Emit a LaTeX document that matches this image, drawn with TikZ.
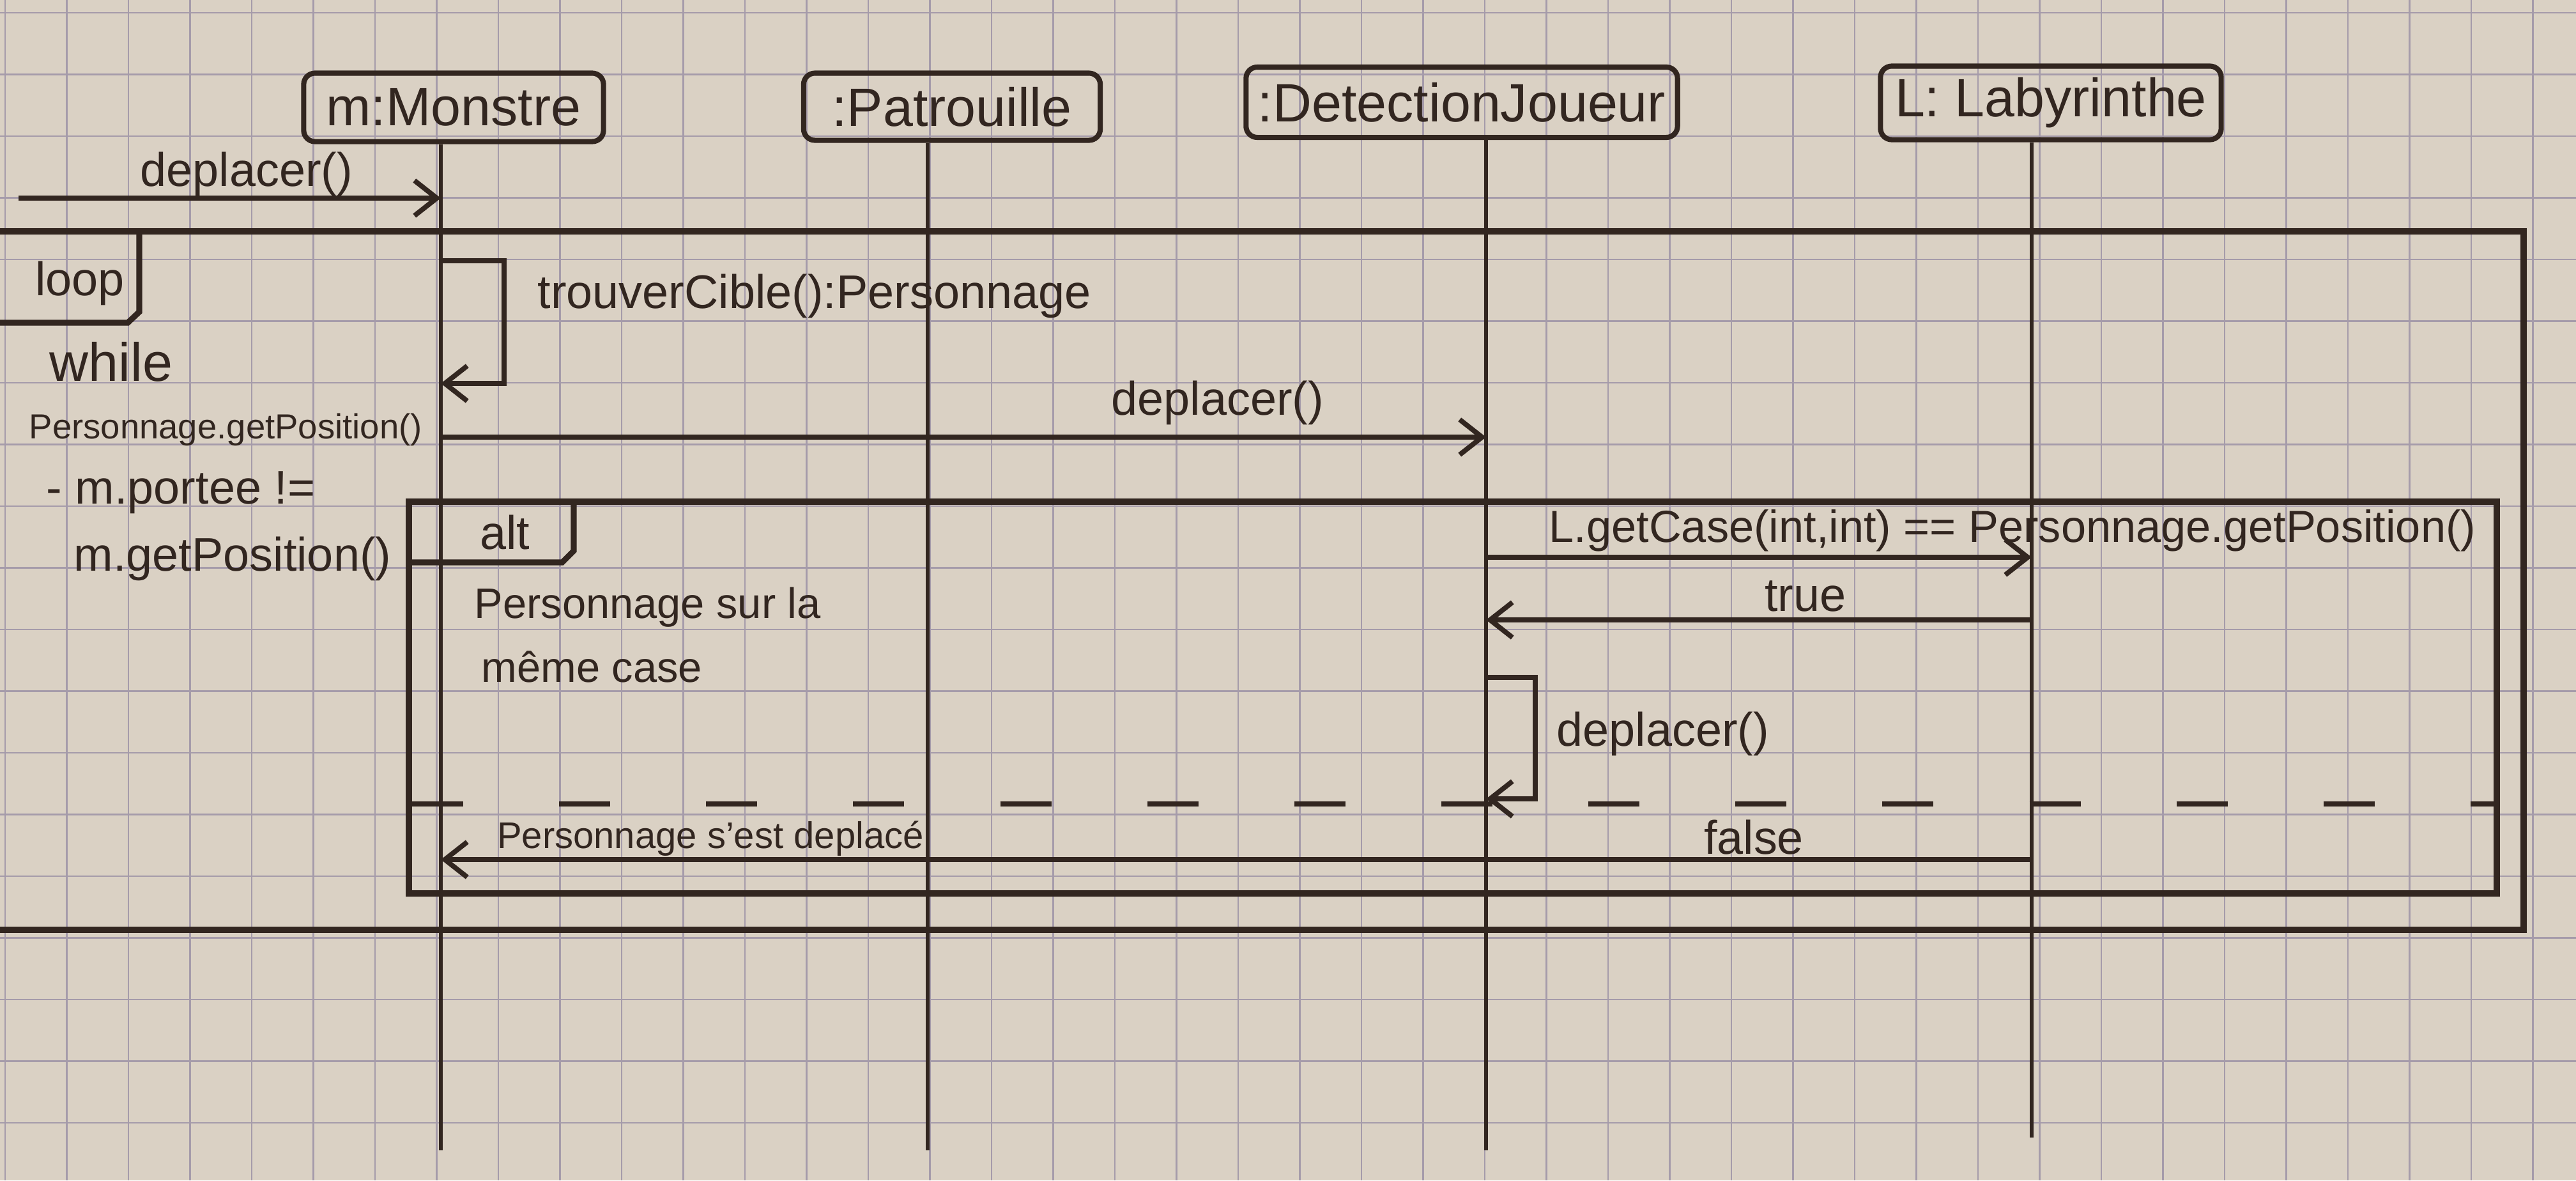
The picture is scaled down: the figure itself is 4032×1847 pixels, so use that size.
\documentclass[tikz,border=0pt]{standalone}
\usepackage{fontspec}
\setmainfont{Liberation Sans}
\usepackage{tikz}
\usetikzlibrary{arrows.meta,calc,positioning}
\definecolor{paper}{RGB}{218,209,196}
\definecolor{gridline}{RGB}{165,155,170}
\definecolor{ink}{RGB}{50,38,32}

\begin{document}
\begin{tikzpicture}[x=0.01cm,y=-0.01cm,
            objbox/.style={draw=ink, line width=2.3pt, rounded corners=5pt, text=ink, font=\fontsize{24}{28}\selectfont, inner sep=0pt},
            lifeline/.style={draw=ink, line width=1.6pt},
            msg/.style={draw=ink, line width=2.2pt, -{Straight Barb[length=3.5mm,width=5.5mm]}},
            fragment/.style={draw=ink, line width=2.6pt},
            msgtext/.style={text=ink, font=\fontsize{21}{25}\selectfont, inner sep=0pt},
            guard/.style={msgtext, anchor=west}]
            \useasboundingbox (0,0) rectangle (4032,1847);
            %Paper
            \fill[paper] (0,0) rectangle (4032,1847);
            \foreach \i in {0,...,41} \draw[gridline, line width=0.8pt] (8+96.5*\i,0) -- (8+96.5*\i,1847);
            \foreach \i in {0,...,19} \draw[gridline, line width=0.8pt] (0,20+96.5*\i) -- (4032,20+96.5*\i);
            %Objects
            \node[objbox, minimum width=4.69cm, minimum height=1.07cm] (mon) at (710,168) {m:Monstre};
            \node[objbox, minimum width=4.64cm, minimum height=1.05cm] (pat) at (1490,167) {:Patrouille};
            \node[objbox, minimum width=6.75cm, minimum height=1.10cm] (det) at (2288,160) {:DetectionJoueur};
            \node[objbox, minimum width=5.33cm, minimum height=1.15cm] (lab) at (3210,161) {L: Labyrinthe};
            %Lifelines
            \coordinate (monEnd) at (690,1800);
            \coordinate (patEnd) at (1452,1800);
            \coordinate (detEnd) at (2326,1800);
            \coordinate (labEnd) at (3180,1780);
            \draw[lifeline] (mon.south -| monEnd) -- (monEnd);
            \draw[lifeline] (pat.south -| patEnd) -- (patEnd);
            \draw[lifeline] (det.south -| detEnd) -- (detEnd);
            \draw[lifeline] (lab.south -| labEnd) -- (labEnd);
            %Message points
            \coordinate (gate) at (29,310);
            \coordinate (m1) at (690,310);
            \coordinate (m2) at (690,408);
            \coordinate (m2r) at (789,408);
            \coordinate (m3r) at (789,600);
            \coordinate (m3) at (690,600);
            \coordinate (m4) at (690,684);
            \coordinate (d4) at (2326,684);
            \coordinate (d5) at (2326,872);
            \coordinate (l5) at (3180,872);
            \coordinate (l6) at (3180,970);
            \coordinate (d6) at (2326,970);
            \coordinate (d7) at (2326,1060);
            \coordinate (d7r) at (2403,1060);
            \coordinate (d8r) at (2403,1250);
            \coordinate (d8) at (2326,1250);
            \coordinate (l9) at (3180,1345);
            \coordinate (m9) at (690,1345);
            %Loop fragment
            \draw[fragment] (0,362) -- (3950,362) -- (3950,1455) -- (0,1455);
            \draw[fragment] (218,362) -- (218,488) -- (200,505) -- (0,505);
            \node[msgtext] (loopTag) at (125,443) {loop};
            \node[guard, font=\fontsize{24}{28}\selectfont] (grd1) at (77,566) {while};
            \node[guard, font=\fontsize{15.5}{19}\selectfont] (grd2) at (45,672) {Personnage.getPosition()};
            \node[guard] (grd3) at (72,771) {- m.portee !=};
            \node[guard] (grd4) at (115,874) {m.getPosition()};
            %Alt fragment
            \draw[fragment] (640,785) rectangle (3908,1398);
            \draw[fragment] (898,785) -- (898,862) -- (880,880) -- (640,880);
            \draw[fragment, line width=2.2pt, dash pattern=on 0.8cm off 1.5cm] (645,1258) -- (3908,1258);
            \node[msgtext] (altTag) at (790,833) {alt};
            \node[guard, font=\fontsize{19}{23}\selectfont] (cond1) at (742,950) {Personnage sur la};
            \node[guard, font=\fontsize{19}{23}\selectfont] (cond2) at (753,1043) {même case};
            %Messages
            \draw[msg] (gate) -- (m1);
            \node[msgtext] (t1) at (386,272) {deplacer()};
            \draw[msg] (m2) -- (m2r) -- (m3r) -- (m3);
            \node[guard] (t2) at (841,463) {trouverCible():Personnage};
            \draw[msg] (m4) -- (d4);
            \node[msgtext] (t3) at (1906,630) {deplacer()};
            \draw[msg] (d5) -- (l5);
            \node[msgtext, font=\fontsize{20}{24}\selectfont] (t4) at (3150,830) {L.getCase(int,int) == Personnage.getPosition()};
            \draw[msg] (l6) -- (d6);
            \node[msgtext] (t5) at (2826,933) {true};
            \draw[msg] (d7) -- (d7r) -- (d8r) -- (d8);
            \node[guard] (t6) at (2436,1148) {deplacer()};
            \draw[msg] (l9) -- (m9);
            \node[msgtext] (t7) at (2745,1310) {false};
            \node[msgtext, font=\fontsize{16.5}{20}\selectfont] (t8) at (1112,1312) {Personnage s'est deplacé};
\end{tikzpicture}
\end{document}
